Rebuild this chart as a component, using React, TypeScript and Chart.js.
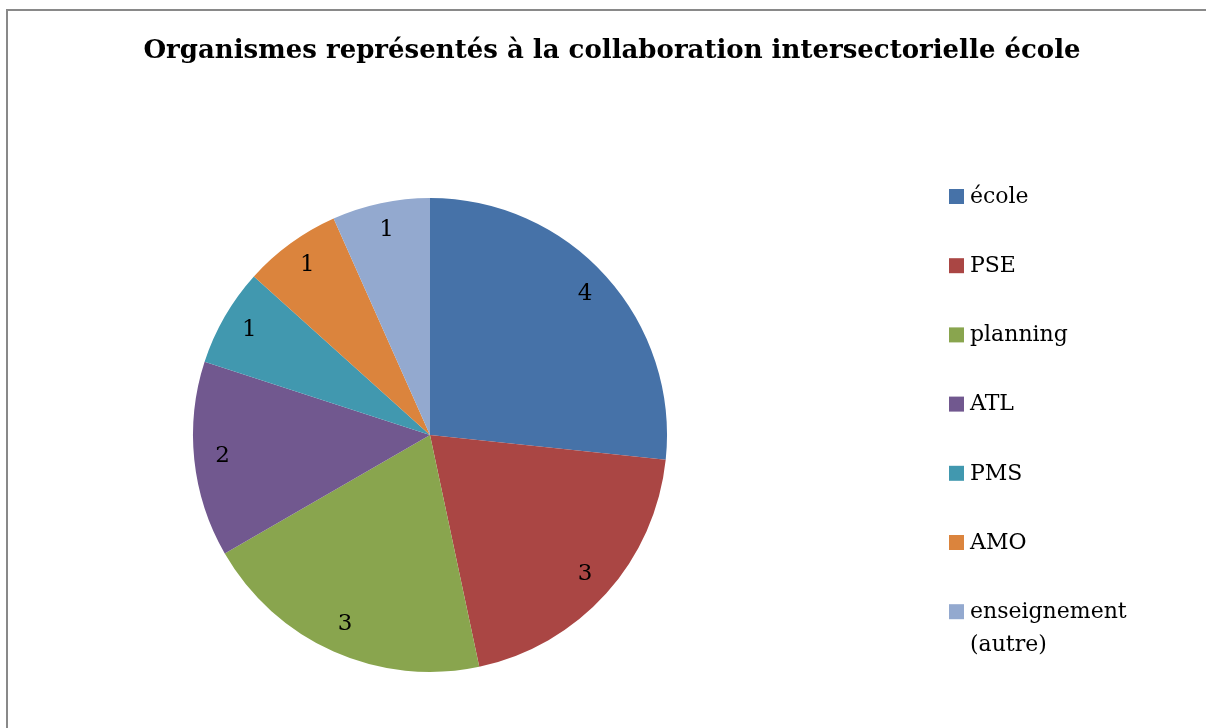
import React, { useEffect, useRef } from "react";
import { Chart, registerables } from "chart.js";

Chart.register(...registerables);

const titleText = "Organismes représentés à la collaboration intersectorielle école";
const categories = ["école", "PSE", "planning", "ATL", "PMS", "AMO", "enseignement (autre)"];
const legendLines = [["école"], ["PSE"], ["planning"], ["ATL"], ["PMS"], ["AMO"], ["enseignement", "(autre)"]];
const values = [4, 3, 3, 2, 1, 1, 1];
const colors = ["#4672A8", "#AA4644", "#89A54E", "#71588F", "#4198AF", "#DB843D", "#93A9CF"];

const SERIF = "'DejaVu Serif', 'Liberation Serif', serif";

const decorPlugin = {
  id: "decor",
  afterDraw(chart: any) {
    const ctx = chart.ctx as CanvasRenderingContext2D;
    ctx.save();
    // title
    ctx.fillStyle = "#000";
    ctx.font = `bold 26px ${SERIF}`;
    ctx.textAlign = "center";
    ctx.textBaseline = "alphabetic";
    ctx.fillText(titleText, 612, 58);

    // slice labels
    const meta = chart.getDatasetMeta(0);
    ctx.font = `23px ${SERIF}`;
    ctx.textBaseline = "middle";
    meta.data.forEach((arc: any, i: number) => {
      const mid = (arc.startAngle + arc.endAngle) / 2;
      const r = arc.outerRadius * 0.88;
      const x = arc.x + Math.cos(mid) * r;
      const y = arc.y + Math.sin(mid) * r - 1;
      ctx.fillText(String(values[i]), x, y);
    });

    // legend
    const startY = 196;
    const step = 69.2;
    ctx.textAlign = "left";
    ctx.font = `22px ${SERIF}`;
    legendLines.forEach((lines, i) => {
      const cy = startY + i * step;
      ctx.fillStyle = colors[i];
      ctx.fillRect(949, cy - 7, 15, 15);
      ctx.fillStyle = "#000";
      lines.forEach((ln, j) => {
        ctx.fillText(ln, 970, cy + 1 + j * 33);
      });
    });
    ctx.restore();
  },
};

export default function App() {
  const ref = useRef<HTMLCanvasElement>(null);
  useEffect(() => {
    if (!ref.current) return;
    const chart = new Chart(ref.current, {
      type: "pie",
      data: {
        labels: categories,
        datasets: [
          {
            data: values,
            backgroundColor: colors,
            borderWidth: 0,
          },
        ],
      },
      options: {
        animation: false,
        responsive: false,
        maintainAspectRatio: false,
        layout: { padding: { left: 193, right: 539, top: 198, bottom: 56 } },
        plugins: {
          legend: { display: false },
          title: { display: false },
          tooltip: { enabled: false },
        },
      },
      plugins: [decorPlugin],
    });
    return () => chart.destroy();
  }, []);
  return (
    <div style={{ position: "fixed", left: 0, top: 0, width: 1206, height: 728, overflow: "hidden", background: "#fff" }}>
      <div
        style={{
          position: "absolute",
          left: 6,
          top: 9,
          width: 1300,
          height: 800,
          borderTop: "2px solid #898989",
          borderLeft: "2px solid #898989",
        }}
      />
      <canvas ref={ref} width={1206} height={728} style={{ position: "absolute", left: 0, top: 0 }} />
    </div>
  );
}
